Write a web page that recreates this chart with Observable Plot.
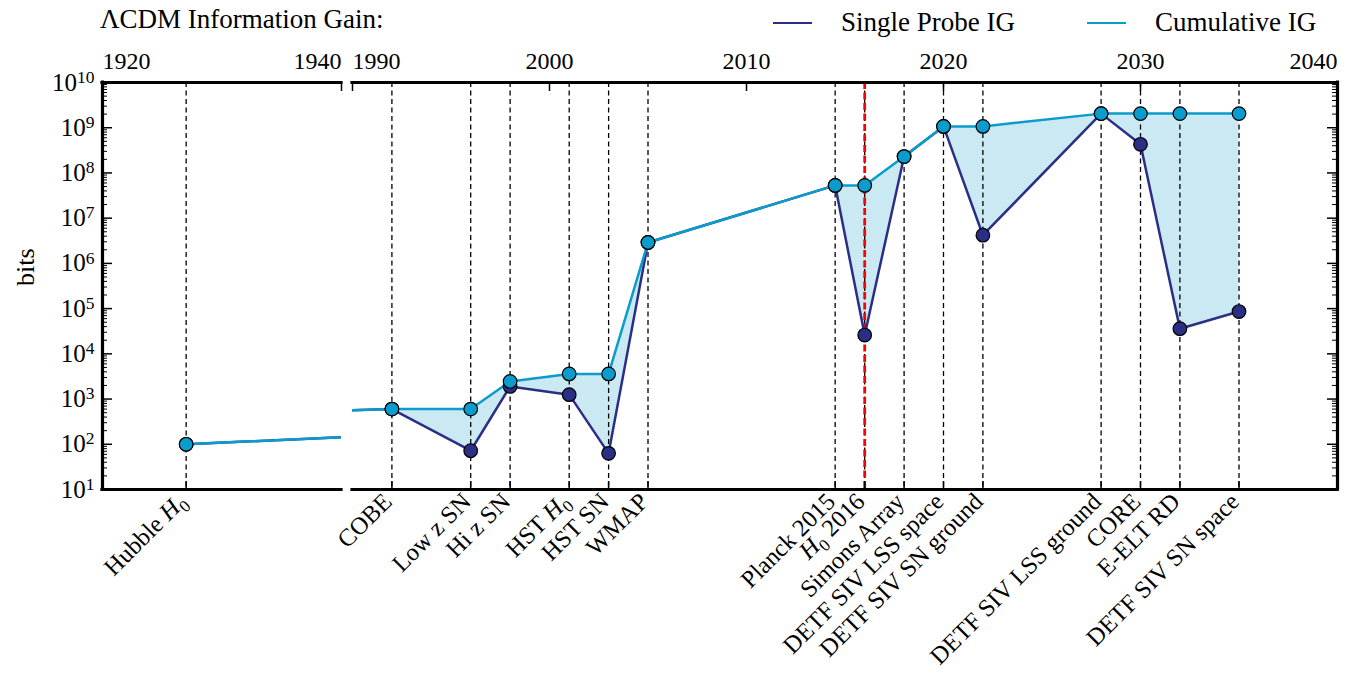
<!DOCTYPE html>
<html><head><meta charset="utf-8">
<script src="https://cdn.jsdelivr.net/npm/d3@7"></script>
<script src="https://cdn.jsdelivr.net/npm/@observablehq/plot@0.6"></script>
<style>
body{margin:0;background:#fff;}
#wrap{position:relative;width:1349px;height:673px;font-family:'Liberation Serif',serif;color:#000;overflow:hidden;background:#fff}
.abs{position:absolute;line-height:1;white-space:nowrap;font-family:'Liberation Serif',serif}
svg{overflow:visible}
</style></head><body><div id="wrap">
<div class="abs" id="title" style="left:100px;top:6px;font-size:27px;">ΛCDM Information Gain:</div>
</div>
<script>
// ---- data ----
const events = ["Hubble H0","COBE","Low z SN","Hi z SN","HST H0","HST SN","WMAP","Planck 2015","H0 2016","Simons Array","DETF SIV LSS space","DETF SIV SN ground","DETF SIV LSS ground","CORE","E-ELT RD","DETF SIV SN space"];
const years = [1927,1992,1996,1998,2001,2003,2005,2014.5,2016,2018,2020,2022,2028,2030,2032,2035];
const singleIG = [100,600,72,1900,1250,63,2.9e6,5.3e7,2.6e4,2.3e8,1.07e9,4.2e6,2.05e9,4.3e8,3.6e4,8.6e4];
const cumulativeIG = [100,600,600,2450,3600,3600,2.9e6,5.3e7,5.3e7,2.3e8,1.07e9,1.07e9,2.05e9,2.05e9,2.05e9,2.05e9];
const highlightYears = [2016];
const leftDomain = [1920,1940];
const rightDomain = [1990,2040];
const leftTopTicks = [1920,1940];
const rightTopTicks = [1990,2000,2010,2020,2030,2040];
const yDomain = [10,1e10];
const majorY = [1e1,1e2,1e3,1e4,1e5,1e6,1e7,1e8,1e9,1e10];
const legendLabels = ["Single Probe IG","Cumulative IG"];

const NAVY = "#2b2e85", CYAN = "#0a9ccc", FILL = "#cbe9f3";
const colours = [NAVY, CYAN];

const minorY = [];
for (const m of majorY.slice(0,-1)) for (let k = 2; k <= 9; k++) minorY.push(m*k);

const rows = events.map((name,i) => ({name, year: years[i], single: singleIG[i], cum: cumulativeIG[i]}));
const nameByYear = new Map(rows.map(d => [d.year, d.name]));

const FONT = "'Liberation Serif', serif";
const H = 633, MT = 42, MB = 184;
const PH = H - MT - MB;

function panel(dom, topTicks, {width, marginLeft, marginRight, side}) {
  const pw = width - marginLeft - marginRight;
  const inDom = rows.filter(d => d.year >= dom[0] && d.year <= dom[1]);
  const yTickInset = side === "left" ? "insetRight" : "insetLeft";
  const marks = [
    Plot.areaY(rows, {x:"year", y1:"single", y2:"cum", fill:FILL, clip:true}),
    Plot.ruleX(rows, {x:"year", stroke:"#000", strokeWidth:1.3, strokeDasharray:"5,3.5", clip:true}),
    Plot.ruleX(highlightYears, {x:d=>d, stroke:"#ff0000", strokeWidth:2.8, strokeDasharray:"7,3.5", clip:true}),
    Plot.lineY(rows, {x:"year", y:"single", stroke:NAVY, strokeWidth:2.5, clip:true}),
    Plot.lineY(rows, {x:"year", y:"cum", stroke:CYAN, strokeWidth:2.5, clip:true}),
    Plot.dot(rows, {x:"year", y:"single", r:6.8, fill:NAVY, stroke:"#000", strokeWidth:1.2, clip:true}),
    Plot.dot(rows, {x:"year", y:"cum", r:6.8, fill:CYAN, stroke:"#000", strokeWidth:1.2, clip:true}),
    Plot.ruleX(inDom, {x:"year", insetTop: PH-8, stroke:"#000", strokeWidth:1.5}),
    Plot.ruleX(topTicks, {x:d=>d, insetBottom: PH-9, stroke:"#000", strokeWidth:1.5}),
    Plot.ruleY(majorY, {y:d=>d, [yTickInset]: pw-10, stroke:"#000", strokeWidth:1.5}),
    Plot.ruleY(minorY, {y:d=>d, [yTickInset]: pw-5, stroke:"#000", strokeWidth:1}),
    Plot.ruleY([yDomain[1]], {stroke:"#000", strokeWidth:3.2, strokeLinecap:"square"}),
    Plot.ruleY([yDomain[0]], {stroke:"#000", strokeWidth:3.2, strokeLinecap:"square"}),
    Plot.ruleX([side === "left" ? dom[0] : dom[1]], {stroke:"#000", strokeWidth:3.2, strokeLinecap:"square"}),
    Plot.text([topTicks[0]], {x:d=>d, text:d=>String(d), frameAnchor:"top", textAnchor:"start", lineAnchor:"bottom", dy:-14, fontSize:24}),
    Plot.text(topTicks.slice(1,-1), {x:d=>d, text:d=>String(d), frameAnchor:"top", textAnchor:"middle", lineAnchor:"bottom", dy:-14, fontSize:24}),
    Plot.text([topTicks[topTicks.length-1]], {x:d=>d, text:d=>String(d), frameAnchor:"top", textAnchor:"end", lineAnchor:"bottom", dy:-14, fontSize:24}),
    Plot.axisX({ticks: inDom.map(d => d.year), anchor:"bottom", tickSize:0, tickPadding:8, tickRotate:-45, tickFormat: y => nameByYear.get(y), fontSize:24.5, dx:-4, label:null})
  ];
  if (side === "left") {
    marks.push(Plot.axisY({ticks: majorY, anchor:"left", tickSize:0, tickPadding:8, tickFormat: d => "10^" + Math.round(Math.log10(d)), fontSize:25, label:null}));
    marks.push(Plot.text(["bits"], {text:d=>d, frameAnchor:"left", dx:-77, rotate:-90, fontSize:26}));
  }
  const svg = Plot.plot({
    width, height: H, marginTop: MT, marginBottom: MB, marginLeft, marginRight,
    x: {domain: dom},
    y: {type:"log", domain: yDomain, axis: side === "left" ? undefined : null},
    style: {fontFamily: FONT, fontSize: "24px", overflow: "visible", background: "transparent", color:"#000"},
    marks
  });
  d3.select(svg).selectAll('[aria-label="y-axis tick label"] text').each(function() {
    const [b, e] = this.textContent.split("^");
    this.textContent = "";
    const t = d3.select(this);
    t.append("tspan").text(b);
    t.append("tspan").attr("dy","-0.45em").attr("font-size","0.7em").text(e);
  });
  d3.select(svg).selectAll('[aria-label="x-axis tick label"] text').each(function() {
    const s = this.textContent;
    if (!s.includes("H0")) return;
    this.textContent = "";
    const t = d3.select(this);
    const parts = s.split(/(H0)/).filter(p => p !== "");
    let shifted = false;
    for (const p of parts) {
      if (p === "H0") {
        t.append("tspan").attr("font-style","italic").text("H");
        t.append("tspan").attr("font-size","0.7em").attr("dy","0.35em").text("0");
        shifted = true;
      } else {
        t.append("tspan").attr("dy", shifted ? "-0.245em" : null).text(p);
        shifted = false;
      }
    }
  });
  return svg;
}

const wrap = document.getElementById("wrap");
const left = panel(leftDomain, leftTopTicks, {width:346, marginLeft:102, marginRight:5, side:"left"});
const right = panel(rightDomain, rightTopTicks, {width:1003, marginLeft:6, marginRight:12, side:"right"});
for (const [el, x] of [[left,0],[right,346]]) {
  el.style.position = "absolute"; el.style.left = x + "px"; el.style.top = "40px";
  wrap.appendChild(el);
}

const legendX = [773, 1087];
legendLabels.forEach((lab, i) => {
  const ln = document.createElement("div");
  ln.className = "abs";
  ln.style.cssText = `left:${legendX[i]}px;top:22px;width:39px;height:0;border-top:2.6px solid ${colours[i]};`;
  wrap.appendChild(ln);
  const tx = document.createElement("div");
  tx.className = "abs";
  tx.style.cssText = `left:${legendX[i]+68}px;top:9px;font-size:27px;font-family:'Liberation Serif',serif;`;
  tx.textContent = lab;
  wrap.appendChild(tx);
});
</script>
</body></html>
